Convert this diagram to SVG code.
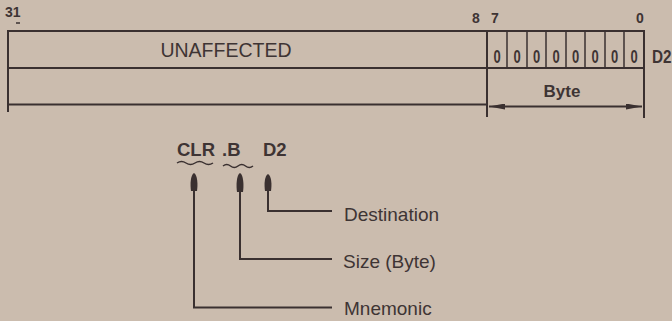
<svg xmlns="http://www.w3.org/2000/svg" width="672" height="321" viewBox="0 0 672 321">
<defs>
<style>
.ln{stroke:#3a3030;stroke-width:2;fill:none}
.thin{stroke:#3a3030;stroke-width:1.5;fill:none}
.t{font-family:"Liberation Sans",Arial,sans-serif;fill:#3e3434}
.b{font-weight:bold}
.z{font-family:"Liberation Sans",Arial,sans-serif;font-weight:bold;font-size:18px;fill:#3e3434;text-anchor:middle}
.ah{fill:#3a3030}
</style>
<marker id="ar" viewBox="0 0 16 6" refX="16" refY="3" markerWidth="16" markerHeight="6" markerUnits="userSpaceOnUse" orient="auto-start-reverse">
<path d="M0,0 L16,3 L0,6 Z" class="ah"/>
</marker>
</defs>
<rect width="672" height="321" fill="#cbbcae"/>

<g id="register">
<line class="ln" x1="8" y1="31" x2="645" y2="31"/>
<line class="ln" x1="8" y1="68" x2="645" y2="68"/>
<line class="ln" x1="8" y1="104.5" x2="487" y2="104.5"/>
<line class="ln" x1="8" y1="30" x2="8" y2="112"/>
<line class="ln" x1="487" y1="31" x2="487" y2="117"/>
<line class="ln" x1="644" y1="31" x2="644" y2="118"/>
<line class="thin" x1="507" y1="31" x2="507" y2="68"/>
<line class="thin" x1="527" y1="31" x2="527" y2="68"/>
<line class="thin" x1="546" y1="31" x2="546" y2="68"/>
<line class="thin" x1="566" y1="31" x2="566" y2="68"/>
<line class="thin" x1="585" y1="31" x2="585" y2="68"/>
<line class="thin" x1="605" y1="31" x2="605" y2="68"/>
<line class="thin" x1="624" y1="31" x2="624" y2="68"/>
<text class="t b" x="5" y="17" font-size="14">31</text>
<line class="thin" x1="16" y1="23" x2="20" y2="23"/>
<text class="t b" x="472" y="23" font-size="14">8</text>
<text class="t b" x="491" y="23" font-size="14">7</text>
<text class="t b" x="636" y="23" font-size="14">0</text>
<text class="t" x="226" y="57" font-size="19.5" text-anchor="middle">UNAFFECTED</text>
<text class="z" transform="translate(497,63) scale(0.72,1)">0</text>
<text class="z" transform="translate(517,63) scale(0.72,1)">0</text>
<text class="z" transform="translate(536.5,63) scale(0.72,1)">0</text>
<text class="z" transform="translate(556,63) scale(0.72,1)">0</text>
<text class="z" transform="translate(575.5,63) scale(0.72,1)">0</text>
<text class="z" transform="translate(595,63) scale(0.72,1)">0</text>
<text class="z" transform="translate(614.5,63) scale(0.72,1)">0</text>
<text class="z" transform="translate(634,63) scale(0.72,1)">0</text>
<text class="t b" transform="translate(652,63) scale(0.85,1)" font-size="18">D2</text>
</g>

<g id="byte">
<text class="t b" x="562" y="97" font-size="17" text-anchor="middle">Byte</text>
</g>

<g id="instruction">
<text class="t b" x="177" y="156" font-size="18.5">CLR</text>
<text class="t b" x="222" y="156" font-size="18.5">.B</text>
<text class="t b" x="263" y="156" font-size="18.5">D2</text>
<path class="thin" d="M177,163 q4.5,-3 9,0 t9,0 t9,0 t9,0"/>
<path class="thin" d="M223,166 q3.75,-3 7.5,0 t7.5,0 t7.5,0 t7.5,0"/>
</g>

<g id="destination">
<text class="t" x="344" y="221" font-size="19">Destination</text>
</g>
<g id="size">
<text class="t" x="343" y="268" font-size="19">Size (Byte)</text>
</g>
<g id="mnemonic">
<text class="t" x="344" y="315" font-size="19">Mnemonic</text>
</g>

<g id="connectors">
<line class="ln" x1="489" y1="106.5" x2="642" y2="106.5" marker-start="url(#ar)" marker-end="url(#ar)"/>
<polyline class="ln" points="268,182 268,211 332,211"/>
<polyline class="ln" points="240,182 240,259 332,259"/>
<polyline class="ln" points="194,182 194,307.5 332,307.5"/>
<path class="ah" d="M268,174 C271.5,176 272,184 271,191 L265,191 C264,184 264.5,176 268,174 Z"/>
<path class="ah" d="M240,173 C243.5,175 244,185 243,192 L237,192 C236,185 236.5,175 240,173 Z"/>
<path class="ah" d="M194,173 C197.5,175 198,184 197,191 L191,191 C190,184 190.5,175 194,173 Z"/>
</g>
</svg>
